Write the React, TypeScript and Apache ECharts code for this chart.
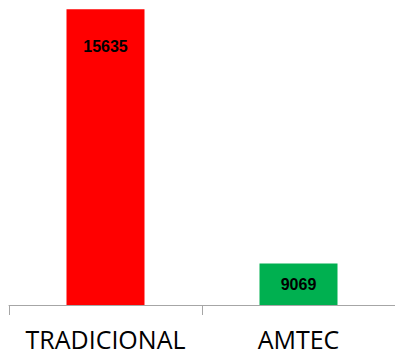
import React, { useEffect, useRef } from "react";
import * as echarts from "echarts";

const categories = ["TRADICIONAL", "AMTEC"];
const values = [15635, 9069];
const colors = ["#ff0000", "#00b050"];
const labelDistances = [29, 13];

export default function App() {
  const ref = useRef<HTMLDivElement>(null);
  useEffect(() => {
    if (!ref.current) return;
    const chart = echarts.init(ref.current, null, { renderer: "svg" });
    chart.setOption({
      animation: false,
      grid: { left: 9, width: 388, top: 0, bottom: 50, containLabel: false },
      xAxis: {
        type: "category",
        data: categories,
        axisLine: { show: true, lineStyle: { color: "#a6a6a6", width: 1 } },
        axisTick: { show: true, length: 10, lineStyle: { color: "#a6a6a6" } },
        axisLabel: {
          color: "#000",
          fontSize: 25,
          lineHeight: 25,
          fontFamily: "'Open Sans', sans-serif",
          margin: 21,
          interval: 0,
        },
      },
      yAxis: {
        type: "value",
        min: 8000,
        max: 16000,
        show: false,
        splitLine: { show: false },
      },
      series: [
        {
          type: "bar",
          barWidth: 78,
          data: values.map((v, i) => ({
            value: v,
            itemStyle: { color: colors[i] },
            label: {
              show: true,
              position: "insideTop",
              distance: labelDistances[i],
              color: "#000",
              fontWeight: "bold",
              fontSize: 16,
              fontFamily: "'Liberation Sans', sans-serif",
            },
          })),
        },
      ],
    });
    return () => chart.dispose();
  }, []);
  return (
    <div style={{ position: "absolute", left: 0, top: 0, width: 395, height: 355, overflow: "hidden" }}>
      <div ref={ref} style={{ width: 395, height: 360, position: "absolute", left: 0, top: -5 }} />
    </div>
  );
}
